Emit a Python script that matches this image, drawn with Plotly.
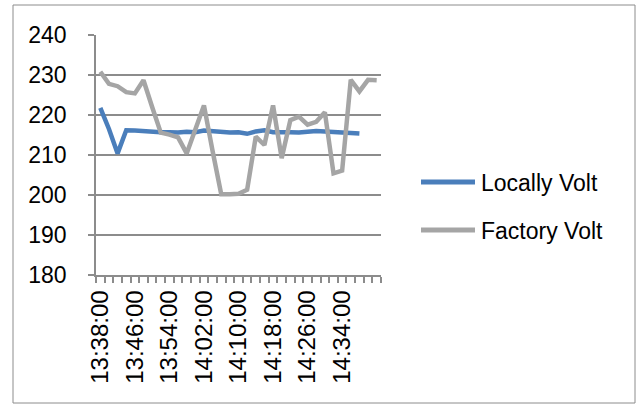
import plotly.graph_objects as go

# Two-minute readings, 13:38:00 onwards
times = [
    "13:38:00", "13:40:00", "13:42:00", "13:44:00", "13:46:00", "13:48:00",
    "13:50:00", "13:52:00", "13:54:00", "13:56:00", "13:58:00", "14:00:00",
    "14:02:00", "14:04:00", "14:06:00", "14:08:00", "14:10:00", "14:12:00",
    "14:14:00", "14:16:00", "14:18:00", "14:20:00", "14:22:00", "14:24:00",
    "14:26:00", "14:28:00", "14:30:00", "14:32:00", "14:34:00", "14:36:00",
    "14:38:00", "14:40:00", "14:42:00",
]

locally_volt = [
    221.8, 216.5, 210.4, 216.2, 216.1, 215.9, 215.8, 215.7, 215.7, 215.6,
    215.8, 215.7, 216.1, 215.9, 215.7, 215.6, 215.7, 215.3, 215.9, 216.2,
    215.7, 215.8, 215.7, 215.6, 215.9, 216.0, 215.9, 215.8, 215.6, 215.5,
    215.4, None, None,
]

factory_volt = [
    230.8, 227.8, 227.2, 225.7, 225.4, 228.7, 222.0, 215.6, 215.1, 214.4,
    210.4, 216.4, 222.4, 211.0, 200.2, 200.2, 200.3, 201.3, 214.6, 212.5,
    222.4, 209.2, 218.7, 219.6, 217.6, 218.3, 220.7, 205.4, 206.1, 228.8,
    225.9, 228.8, 228.7,
]

label_every = 4
label_idx = list(range(0, 29, label_every))

BLUE = "#4A7EBB"
GRAY = "#A5A5A5"
AXIS = "#8C8C8C"
FONT = "Liberation Sans"

x = list(range(len(times)))

fig = go.Figure()
fig.add_trace(go.Scatter(
    x=x, y=locally_volt, mode="lines", name="Locally Volt",
    line=dict(color=BLUE, width=4.5), connectgaps=False,
))
fig.add_trace(go.Scatter(
    x=x, y=factory_volt, mode="lines", name="Factory Volt",
    line=dict(color=GRAY, width=4.5),
))

# Chart frame
W, H = 637, 406
L, R, T, B = 96, 256, 35, 131
pw, ph = W - L - R, H - T - B


def px(xp):
    return (xp - L) / pw


def py(yp):
    return (H - B - yp) / ph


shapes = [dict(
    type="rect", xref="paper", yref="paper",
    x0=px(13), x1=px(635), y0=py(403), y1=py(5),
    line=dict(color=AXIS, width=1), fillcolor="rgba(0,0,0,0)", layer="below",
)]

# Legend swatches and labels
legend_items = [("Locally Volt", BLUE, 182), ("Factory Volt", GRAY, 230)]
annotations = []
for name, color, yy in legend_items:
    shapes.append(dict(
        type="line", xref="paper", yref="paper",
        x0=px(421), x1=px(475), y0=py(yy), y1=py(yy),
        line=dict(color=color, width=5),
    ))
    annotations.append(dict(
        xref="paper", yref="paper", x=px(479), y=py(yy + 1),
        text=name, showarrow=False, xanchor="left", yanchor="middle",
        font=dict(family=FONT, size=23, color="#000000"),
    ))

fig.update_layout(
    width=W, height=H,
    margin=dict(l=L, r=R, t=T, b=B, pad=0),
    paper_bgcolor="white", plot_bgcolor="white",
    showlegend=False,
    shapes=shapes, annotations=annotations,
    font=dict(family=FONT, size=22, color="#000000"),
    xaxis=dict(
        range=[-0.5, len(times) - 0.5],
        tickmode="array",
        tickvals=label_idx,
        ticktext=[times[i] for i in label_idx],
        tickangle=-90,
        ticks="", ticklen=0,
        ticklabelstandoff=4,
        showgrid=False, zeroline=False,
        showline=True, linecolor=AXIS, linewidth=1.5,
        tickfont=dict(family=FONT, size=24),
        minor=dict(
            tickvals=[i - 0.5 for i in range(len(times) + 1)],
            ticks="outside", ticklen=6, tickcolor=AXIS, tickwidth=1.5,
            showgrid=False,
        ),
    ),
    yaxis=dict(
        range=[180, 240], dtick=10,
        ticks="outside", ticklen=6, tickcolor=AXIS, tickwidth=1.5,
        ticklabelstandoff=17,
        showgrid=True, gridcolor=AXIS, gridwidth=1.5,
        zeroline=False,
        showline=True, linecolor=AXIS, linewidth=1.5,
        tickfont=dict(family=FONT, size=23),
    ),
)

fig.write_html("out.html")
